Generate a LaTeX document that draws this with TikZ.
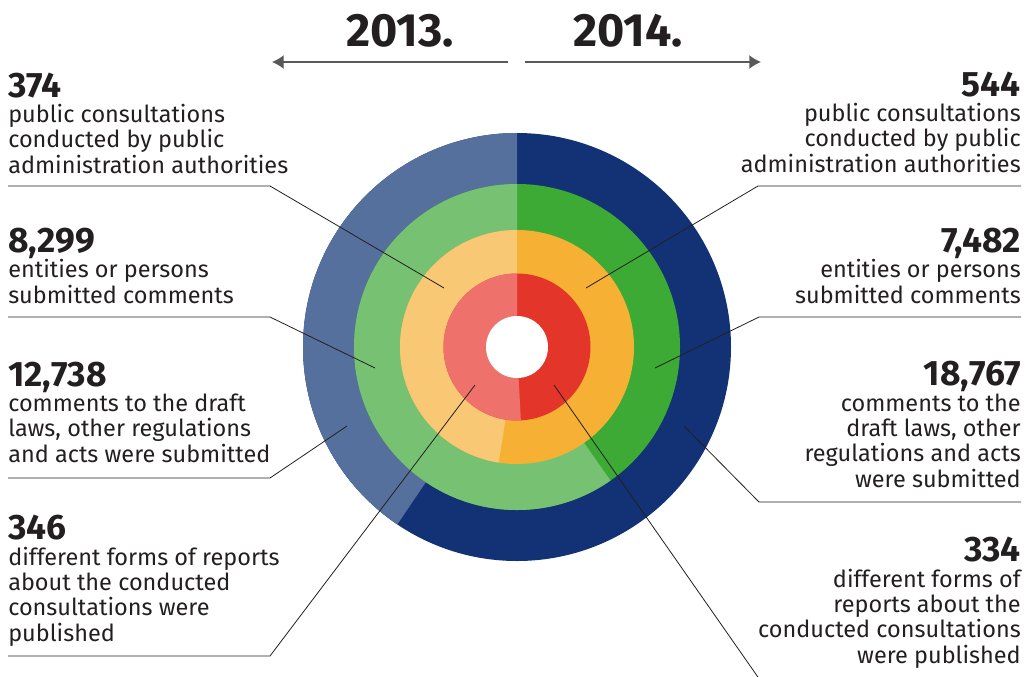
\documentclass[tikz,border=0pt]{standalone}
\usepackage{fontspec}
\setmainfont{Fira Sans}
\usetikzlibrary{arrows.meta}
\usetikzlibrary{positioning}
\definecolor{ink}{RGB}{35,31,32}
\definecolor{blueA}{RGB}{86,112,157}
\definecolor{blueB}{RGB}{19,50,117}
\definecolor{greenA}{RGB}{119,194,114}
\definecolor{greenB}{RGB}{61,170,53}
\definecolor{yellowA}{RGB}{249,200,116}
\definecolor{yellowB}{RGB}{246,177,53}
\definecolor{redA}{RGB}{238,114,107}
\definecolor{redB}{RGB}{228,53,43}
\newcommand{\bignum}[1]{{\fontsize{26.5}{19}\selectfont\bfseries #1}}

\begin{document}
\begin{tikzpicture}[x=0.75pt, y=-0.75pt, >={Latex[length=8.8pt,width=10.5pt]},
lab/.style={inner sep=0pt, align=left, text=ink, font=\fontsize{17.6}{19}\selectfont},
labr/.style={lab, align=right},
leader/.style={line width=0.6pt, draw=ink},
year/.style={inner sep=0pt, text=ink, font=\fontsize{35}{40}\selectfont\bfseries}]
\useasboundingbox (0,0) rectangle (1025,676);

% rings, 2014 full disc first, 2013 sector on top
\begin{scope}[shift={(517,347)}, yscale=-1]
\fill[blueB] (0,0) circle[radius=214];
\fill[blueA] (0,0) -- (90:214) arc[start angle=90, end angle=236, radius=214] -- cycle;
\fill[greenB] (0,0) circle[radius=163];
\fill[greenA] (0,0) -- (90:163) arc[start angle=90, end angle=305, radius=163] -- cycle;
\fill[yellowB] (0,0) circle[radius=117];
\fill[yellowA] (0,0) -- (90:117) arc[start angle=90, end angle=261, radius=117] -- cycle;
\fill[redB] (0,0) circle[radius=73.5];
\fill[redA] (0,0) -- (90:73.5) arc[start angle=90, end angle=273, radius=73.5] -- cycle;
\fill[white] (0,0) circle[radius=31];
\end{scope}

% years
\node[year, anchor=base] (y2013) at (400,46) {2013.};
\node[year, anchor=base] (y2014) at (628,46) {2014.};
\coordinate (a2013) at (508,62);
\coordinate (b2013) at (272,62);
\coordinate (a2014) at (525,62);
\coordinate (b2014) at (761,62);
\draw[->, line width=1.1pt, black!65] (a2013) -- (b2013);
\draw[->, line width=1.1pt, black!65] (a2014) -- (b2014);

% left labels (base = last line)
\node[lab, anchor=base west] (t374) at (8,173) {\bignum{374}\\public consultations\\conducted by public\\administration authorities};
\node[lab, anchor=base west] (t8299) at (8,303) {\bignum{8,299}\\entities or persons\\submitted comments};
\node[lab, anchor=base west] (t12738) at (8,462) {\bignum{12,738}\\comments to the draft\\laws, other regulations\\and acts were submitted};
\node[lab, anchor=base west] (t346) at (8,641) {\bignum{346}\\different forms of reports\\about the conducted\\consultations were\\published};

% right labels
\node[labr, anchor=base east] (t544) at (1021,172) {\bignum{544}\\public consultations\\conducted by public\\administration authorities};
\node[labr, anchor=base east] (t7482) at (1021,303) {\bignum{7,482}\\entities or persons\\submitted comments};
\node[labr, anchor=base east] (t18767) at (1021,487) {\bignum{18,767}\\comments to the\\draft laws, other\\regulations and acts\\were submitted};
\node[labr, anchor=base east] (t334) at (1021,663) {\bignum{334}\\different forms of\\reports about the\\conducted consultations\\were published};

% leader lines
\coordinate (e374) at (8,186);
\coordinate (k374) at (270,186);
\coordinate (p374) at (444,288);
\coordinate (e8299) at (8,317);
\coordinate (k8299) at (270,317);
\coordinate (p8299) at (375,368);
\coordinate (e12738) at (8,478);
\coordinate (k12738) at (270,478);
\coordinate (p12738) at (347,426);
\coordinate (e346) at (8,656);
\coordinate (k346) at (270,656);
\coordinate (p346) at (475,385);
\draw[leader] (e374) -- (k374) -- (p374);
\draw[leader] (e8299) -- (k8299) -- (p8299);
\draw[leader] (e12738) -- (k12738) -- (p12738);
\draw[leader] (e346) -- (k346) -- (p346);

\coordinate (e544) at (1021,186);
\coordinate (k544) at (758,186);
\coordinate (p544) at (586,288);
\coordinate (e7482) at (1021,317);
\coordinate (k7482) at (759,317);
\coordinate (p7482) at (655,368);
\coordinate (e18767) at (1021,502);
\coordinate (k18767) at (759,502);
\coordinate (p18767) at (684,426);
\coordinate (k334) at (760,680);
\coordinate (p334) at (554,385);
\draw[leader] (e544) -- (k544) -- (p544);
\draw[leader] (e7482) -- (k7482) -- (p7482);
\draw[leader] (e18767) -- (k18767) -- (p18767);
\draw[leader] (k334) -- (p334);
\end{tikzpicture}
\end{document}
